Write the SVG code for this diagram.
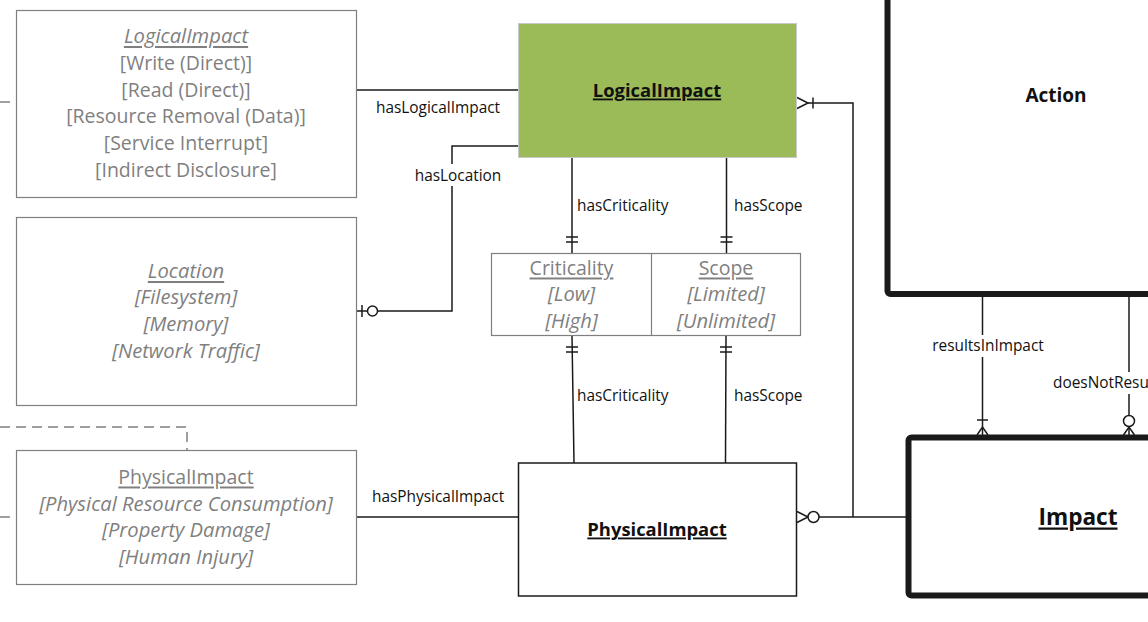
<svg xmlns="http://www.w3.org/2000/svg" width="1148" height="622" viewBox="0 0 1148 622">
<style>
  text { font-family: "Open Sans", "Noto Sans", "DejaVu Sans", sans-serif; }
  .enum { fill: #ffffff; stroke: #7f7f7f; stroke-width: 1.2; }
  .et { fill: #7f7f7f; font-size: 19.5px; text-anchor: middle; dominant-baseline: central; }
  .it { font-style: italic; font-size: 20.2px; }
  .ul { text-decoration: underline; }
  .ent { fill: #ffffff; stroke: #1a1a1a; stroke-width: 1.5; }
  .thick { fill: #ffffff; stroke: #1a1a1a; stroke-width: 6; }
  .bt { fill: #111111; font-weight: bold; text-anchor: middle; dominant-baseline: central; }
  .ln { fill: none; stroke: #1a1a1a; stroke-width: 1.5; }
  .dash { fill: none; stroke: #7f7f7f; stroke-width: 1.5; stroke-dasharray: 10 6; }
  .lbl { fill: #111111; font-size: 15.4px; dominant-baseline: central; }
  .circ { fill: #ffffff; stroke: #1a1a1a; stroke-width: 1.5; }
</style>

<g id="connectors">
  <!-- dashed lines on the left -->
  <path class="dash" d="M0,102 H16" stroke-dasharray="5 5"/>
  <path class="dash" d="M0,427 H187 V450"/>
  <path class="dash" d="M0,517 H16" stroke-dasharray="5 5"/>

  <!-- hasLogicalImpact -->
  <path class="ln" d="M356,90 H518"/>
  <text class="lbl" x="376" y="107">hasLogicalImpact</text>

  <!-- hasLocation -->
  <path class="ln" d="M518,146 H452 V311 H356"/>
  <path class="ln" d="M362,305 V317"/>
  <circle class="circ" cx="372.5" cy="311" r="5"/>
  <rect x="412" y="164" width="92" height="22" fill="#ffffff"/>
  <text class="lbl" x="458" y="175" text-anchor="middle">hasLocation</text>

  <!-- hasCriticality top -->
  <path class="ln" d="M572,157 V253"/>
  <path class="ln" d="M566,237 H578 M566,242 H578"/>
  <text class="lbl" x="577" y="205">hasCriticality</text>

  <!-- hasScope top -->
  <path class="ln" d="M726.5,157 V253"/>
  <path class="ln" d="M720.5,237 H732.5 M720.5,242 H732.5"/>
  <text class="lbl" x="734" y="205">hasScope</text>

  <!-- hasCriticality bottom -->
  <path class="ln" d="M572,336 L574,463"/>
  <path class="ln" d="M566,347 H578 M566,352 H578"/>
  <text class="lbl" x="577" y="395">hasCriticality</text>

  <!-- hasScope bottom -->
  <path class="ln" d="M726,336 L725.5,463"/>
  <path class="ln" d="M720,347 H732 M720,352 H732"/>
  <text class="lbl" x="734" y="395">hasScope</text>

  <!-- hasPhysicalImpact -->
  <path class="ln" d="M356,517 H518"/>
  <text class="lbl" x="372" y="496">hasPhysicalImpact</text>

  <!-- Impact to LogicalImpact / PhysicalImpact -->
  <path class="ln" d="M808,103 H853 V517"/>
  <path class="ln" d="M797,97.5 L808,103 L797,108.5"/>
  <path class="ln" d="M813,97.5 V108.5"/>
  <path class="ln" d="M819,517 H908"/>
  <path class="ln" d="M797,511.5 L808,517 L797,522.5"/>
  <circle class="circ" cx="813.5" cy="517" r="5.5"/>

  <!-- resultsInImpact -->
  <path class="ln" d="M982.5,296 V435"/>
  <path class="ln" d="M977,420 H988"/>
  <path class="ln" d="M977,435 L982.5,427 L988,435"/>
  <rect x="930" y="335" width="118" height="22" fill="#ffffff"/>
  <text class="lbl" x="988" y="345" text-anchor="middle">resultsInImpact</text>

  <!-- doesNotResultInImpact -->
  <path class="ln" d="M1129,296 V435"/>
  <circle class="circ" cx="1129" cy="421" r="5.5"/>
  <path class="ln" d="M1123.5,435 L1129,427 L1134.5,435"/>
  <rect x="1050" y="372" width="98" height="22" fill="#ffffff"/>
  <text class="lbl" x="1053" y="382">doesNotResultInImpact</text>
</g>

<g id="node-logicalimpact-enum">
  <rect class="enum" x="16.5" y="10.5" width="340" height="187"/>
  <text class="et it ul" x="186" y="35">LogicalImpact</text>
  <text class="et" x="186" y="62">[Write (Direct)]</text>
  <text class="et" x="186" y="89">[Read (Direct)]</text>
  <text class="et" x="186" y="115">[Resource Removal (Data)]</text>
  <text class="et" x="186" y="142">[Service Interrupt]</text>
  <text class="et" x="186" y="169">[Indirect Disclosure]</text>
</g>

<g id="node-location-enum">
  <rect class="enum" x="16.5" y="217.5" width="340" height="188"/>
  <text class="et it ul" x="186" y="270">Location</text>
  <text class="et it" x="186" y="296">[Filesystem]</text>
  <text class="et it" x="186" y="323">[Memory]</text>
  <text class="et it" x="186" y="350">[Network Traffic]</text>
</g>

<g id="node-physicalimpact-enum">
  <rect class="enum" x="16.5" y="450.5" width="340" height="134"/>
  <text class="et ul" x="186" y="476">PhysicalImpact</text>
  <text class="et it" x="186" y="503">[Physical Resource Consumption]</text>
  <text class="et it" x="186" y="529">[Property Damage]</text>
  <text class="et it" x="186" y="556">[Human Injury]</text>
</g>

<g id="node-logicalimpact">
  <rect x="518.5" y="23.5" width="278" height="134" fill="#9bbb59" stroke="#c8c8c8" stroke-width="1"/>
  <text class="bt ul" x="657" y="89" font-size="18.4">LogicalImpact</text>
</g>

<g id="node-criticality-scope">
  <rect class="enum" x="491.5" y="253.5" width="309" height="82"/>
  <path d="M651.5,253.5 V335.5" stroke="#7f7f7f" stroke-width="1.2"/>
  <text class="et ul" x="571.5" y="267">Criticality</text>
  <text class="et it" x="571.5" y="293">[Low]</text>
  <text class="et it" x="571.5" y="320">[High]</text>
  <text class="et ul" x="726" y="267">Scope</text>
  <text class="et it" x="726" y="293">[Limited]</text>
  <text class="et it" x="726" y="320">[Unlimited]</text>
</g>

<g id="node-physicalimpact">
  <rect class="ent" x="518.5" y="463" width="278" height="133"/>
  <text class="bt ul" x="657" y="528" font-size="18.4">PhysicalImpact</text>
</g>

<g id="node-action">
  <rect class="thick" x="887.5" y="-20" width="300" height="314" rx="3"/>
  <text class="bt" x="1056" y="95" font-size="19">Action</text>
</g>

<g id="node-impact">
  <rect class="thick" x="908.5" y="437.5" width="300" height="158" rx="3"/>
  <text class="bt ul" x="1078" y="516" font-size="22.6">Impact</text>
</g>
</svg>
